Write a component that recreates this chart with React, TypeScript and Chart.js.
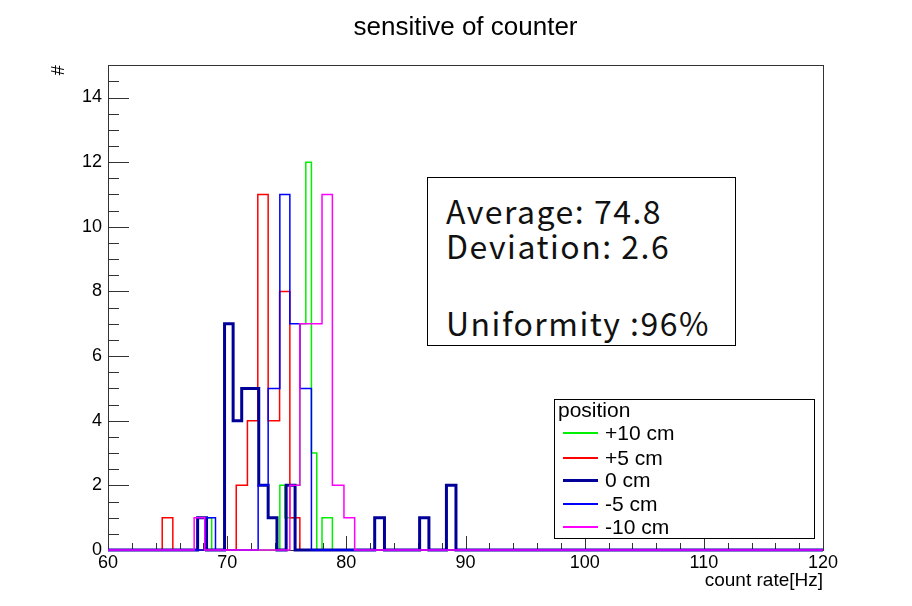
import React, { useEffect, useRef } from "react";
import { Chart, registerables } from "chart.js";

Chart.register(...registerables);

// ---------- data ----------
const chartTitle = "sensitive of counter";
const xAxisTitle = "count rate[Hz]";
const yAxisTitle = "#";

const xMin = 60;
const xMax = 120;
const xMajorStep = 10;
const xMinorStep = 2;
const yMin = 0;
const yMax = 15;
const yMajorStep = 2;
const yMinorStep = 0.5;

const seriesNames = ["+10 cm", "+5 cm", "0 cm", "-5 cm", "-10 cm"];

// bin edges (count rate, Hz) and counts per bin
const plus10Edges = [68.27, 68.7, 74.42, 74.84, 75.26, 75.68, 76.1, 76.6, 77.07, 77.52, 77.96, 78.4, 78.83];
const plus10Counts = [1, 0, 2, 1, 1, 2, 7, 12, 3, 0, 1, 1];

const plus5Edges = [64.55, 65.44, 70.76, 71.7, 72.57, 73.44, 74.4, 75.26, 76.1];
const plus5Counts = [1, 0, 2, 4, 11, 4, 8, 1];

const zeroEdges = [67.52, 68.27, 69.78, 70.5, 71.22, 72.65, 73.44, 74.18, 74.95, 75.7, 82.38, 83.2, 86.15, 86.93, 88.4, 89.2];
const zeroCounts = [1, 0, 7, 4, 5, 2, 1, 0, 2, 0, 1, 0, 1, 0, 2];

const minus5Edges = [68.13, 69.02, 72.6, 73.44, 74.42, 75.26, 76.1, 77.07];
const minus5Counts = [1, 0, 2, 5, 11, 7, 5];

const minus10Edges = [67.23, 68.12, 75.26, 76.1, 77.0, 77.96, 78.83, 79.8, 80.7];
const minus10Counts = [1, 0, 2, 7, 7, 11, 2, 1];

const legendTitle = "position";
const statsLines = ["Average: 74.8", "Deviation: 2.6", "Uniformity :96%"];

// ---------- styles ----------
const seriesEdges = [plus10Edges, plus5Edges, zeroEdges, minus5Edges, minus10Edges];
const seriesCounts = [plus10Counts, plus5Counts, zeroCounts, minus5Counts, minus10Counts];
const seriesColors = ["#00f000", "#ff0000", "#000099", "#0000ff", "#ff00ff"];
const seriesWidths = [1.5, 1.5, 3, 1.5, 1.5];
// drawing order: lower value drawn on top
const seriesOrder = [4, 3, 2, 1, 0];

const FONT = "'Liberation Sans', Arial, Helvetica, sans-serif";

function histPoints(edges: number[], counts: number[]) {
  const pts: { x: number; y: number }[] = [{ x: xMin, y: 0 }];
  for (let i = 0; i < counts.length; i++) pts.push({ x: edges[i], y: counts[i] });
  pts.push({ x: edges[edges.length - 1], y: 0 });
  pts.push({ x: xMax, y: 0 });
  return pts;
}

const framePlugin = {
  id: "rootFrame",
  beforeDatasetsDraw(chart: any) {
    const { ctx, chartArea, scales } = chart;
    const { left, right, top, bottom } = chartArea;
    const xs = scales.x;
    const ys = scales.y;
    ctx.save();
    ctx.strokeStyle = "#333";
    ctx.lineWidth = 1;
    ctx.strokeRect(Math.round(left) + 0.5, Math.round(top) + 0.5, Math.round(right - left), Math.round(bottom - top));
    ctx.beginPath();
    const nx = Math.round((xMax - xMin) / xMinorStep);
    for (let i = 0; i <= nx; i++) {
      const v = xMin + i * xMinorStep;
      const major = Math.abs(v / xMajorStep - Math.round(v / xMajorStep)) < 1e-6;
      const px = Math.round(xs.getPixelForValue(v)) + 0.5;
      ctx.moveTo(px, bottom);
      ctx.lineTo(px, bottom - (major ? 14 : 7));
    }
    const ny = Math.floor((yMax - yMin) / yMinorStep + 1e-6);
    for (let i = 0; i <= ny; i++) {
      const v = yMin + i * yMinorStep;
      const major = Math.abs(v / yMajorStep - Math.round(v / yMajorStep)) < 1e-6;
      const py = Math.round(ys.getPixelForValue(v)) + 0.5;
      ctx.moveTo(left, py);
      ctx.lineTo(left + (major ? 21 : 11), py);
    }
    ctx.stroke();
    ctx.restore();
  },
};

export default function App() {
  const canvasRef = useRef<HTMLCanvasElement>(null);

  useEffect(() => {
    const canvas = canvasRef.current;
    if (!canvas) return;
    const datasets = seriesNames.map((name, i) => ({
      label: name,
      data: histPoints(seriesEdges[i], seriesCounts[i]),
      borderColor: seriesColors[i],
      backgroundColor: seriesColors[i],
      borderWidth: seriesWidths[i],
      pointRadius: 0,
      pointHoverRadius: 0,
      fill: false,
      stepped: "before" as const,
      tension: 0,
      borderJoinStyle: "miter" as const,
      borderCapStyle: "butt" as const,
      order: seriesOrder[i],
      clip: false as const,
    }));
    const chart = new Chart(canvas, {
      type: "line",
      data: { datasets },
      options: {
        animation: false,
        responsive: false,
        maintainAspectRatio: false,
        devicePixelRatio: 1,
        layout: { padding: { left: 0, right: 89, top: 0, bottom: 0 } },
        plugins: {
          legend: { display: false },
          tooltip: { enabled: false },
          title: {
            display: true,
            text: chartTitle,
            fullSize: false,
            color: "#000",
            font: { family: FONT, size: 26, weight: "normal" },
            padding: { top: 12, bottom: 22 },
          },
        },
        scales: {
          x: {
            type: "linear",
            min: xMin,
            max: xMax,
            position: "bottom",
            grid: { display: false, drawTicks: false },
            border: { display: false },
            ticks: {
              stepSize: xMajorStep,
              includeBounds: false,
              autoSkip: false,
              maxRotation: 0,
              padding: 2,
              color: "#000",
              font: { family: FONT, size: 18 },
            },
            title: {
              display: true,
              text: xAxisTitle,
              align: "end",
              color: "#000",
              font: { family: FONT, size: 19 },
              padding: { top: 0, bottom: 14 },
            },
            afterFit: (s: any) => {
              s.height = 56;
            },
          },
          y: {
            type: "linear",
            min: yMin,
            max: yMax,
            grid: { display: false, drawTicks: false },
            border: { display: false },
            ticks: {
              stepSize: yMajorStep,
              includeBounds: false,
              padding: 6,
              color: "#000",
              font: { family: FONT, size: 18 },
            },
            title: {
              display: true,
              text: yAxisTitle,
              align: "end",
              color: "#000",
              font: { family: FONT, size: 18 },
              padding: { top: 48, bottom: 0 },
            },
            afterFit: (s: any) => {
              s.width = 108;
            },
          },
        },
      },
      plugins: [framePlugin],
    });
    return () => chart.destroy();
  }, []);

  const legendRows = [433, 458, 480, 504, 527];
  const statsTops = [210, 245, 322];

  return (
    <div style={{ position: "fixed", left: 0, top: 0, width: 912, height: 606, background: "#fff", overflow: "hidden" }}>
      <canvas ref={canvasRef} width={912} height={606} style={{ position: "absolute", left: 0, top: 0, width: 912, height: 606 }} />
      <div style={{ position: "absolute", left: 427, top: 177, width: 307, height: 167, border: "1px solid #000", background: "#fff" }} />
      {statsLines.map((t, i) => (
        <div
          key={t}
          style={{
            position: "absolute",
            left: 446,
            top: statsTops[i] - 22,
            height: 44,
            lineHeight: "44px",
            fontFamily: "'Noto Sans CJK JP', 'Noto Sans', sans-serif",
            fontSize: 32,
            fontWeight: 400,
            letterSpacing: "1.5px",
            color: "#111",
            whiteSpace: "pre",
          }}
        >
          {t}
        </div>
      ))}
      <div style={{ position: "absolute", left: 554, top: 399, width: 259, height: 138, border: "1px solid #000", background: "#fff" }} />
      <div style={{ position: "absolute", left: 558, top: 410 - 12, height: 24, lineHeight: "24px", fontFamily: FONT, fontSize: 21, color: "#000" }}>
        {legendTitle}
      </div>
      {seriesNames.map((n, i) => (
        <React.Fragment key={n}>
          <div
            style={{
              position: "absolute",
              left: 563,
              top: legendRows[i] - seriesWidths[i] / 2,
              width: 35,
              height: seriesWidths[i],
              background: seriesColors[i],
            }}
          />
          <div
            style={{
              position: "absolute",
              left: 605,
              top: legendRows[i] - 12,
              height: 24,
              lineHeight: "24px",
              fontFamily: FONT,
              fontSize: 21,
              color: "#000",
              whiteSpace: "pre",
            }}
          >
            {n}
          </div>
        </React.Fragment>
      ))}
    </div>
  );
}
